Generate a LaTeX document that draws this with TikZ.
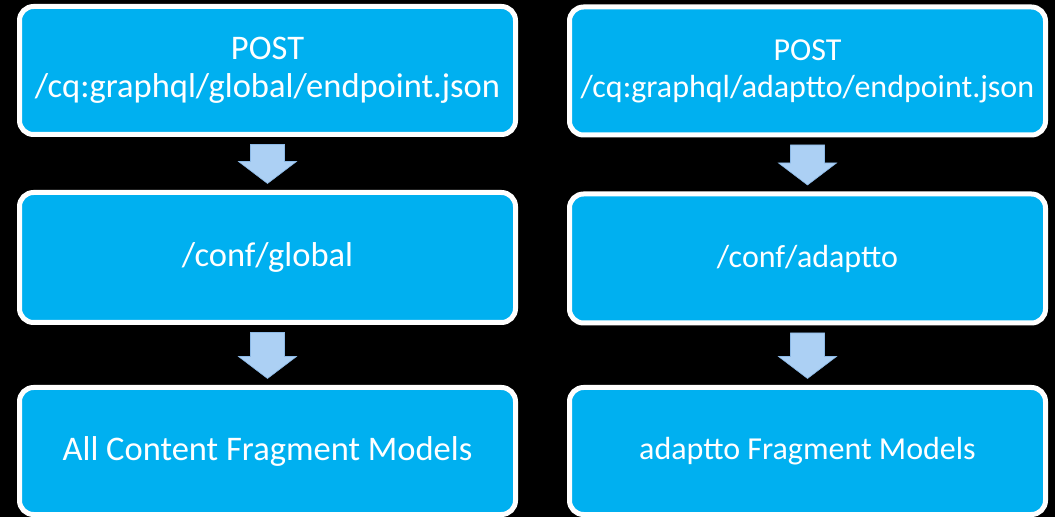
\documentclass[tikz,border=0pt]{standalone}
\usepackage{fontspec}
\setmainfont{Carlito}
\usetikzlibrary{calc}
\definecolor{boxblue}{RGB}{0,176,240}
\definecolor{arrowblue}{RGB}{172,208,244}
\definecolor{arrowedge}{RGB}{140,185,230}
\tikzset{
  flowbox/.style={draw=white, line width=5pt, fill=boxblue, rounded corners=14pt,
    text=white, align=center, inner sep=0pt, font=\fontsize{34.5}{38}\selectfont},
  rightbox/.style={flowbox, font=\fontsize{32}{37}\selectfont},
  arrowfill/.style={fill=arrowblue, draw=arrowedge, line width=0.6pt}
}
\newcommand{\blockarr}[2]{%
  \coordinate (tt) at ($(#1.south)+(0,-7.5)$);
  \coordinate (bb) at ($(#2.north)+(0,6.5)$);
  \filldraw[arrowfill] ($(tt)+(-17,0)$) -- ($(tt)+(17,0)$) -- ($(bb)+(17,22)$) -- ($(bb)+(29,22)$)
    -- (bb) -- ($(bb)+(-29,22)$) -- ($(bb)+(-17,22)$) -- cycle;}
\begin{document}
\begin{tikzpicture}[x=1pt,y=1pt]
\fill[black] (0,0) rectangle (1055,517);
\useasboundingbox (0,0) rectangle (1055,517);
% left column
\node[flowbox, minimum width=496pt, minimum height=128pt] (l1) at (267.5,446.5)
  {POST\\/cq:graphql/global/endpoint.json};
\node[flowbox, minimum width=496pt, minimum height=130pt] (l2) at (267.5,259.5) {/conf/global};
\node[flowbox, minimum width=496pt, minimum height=127pt] (l3) at (267.5,66) {All Content Fragment Models};
% right column
\node[rightbox, minimum width=476pt, minimum height=128pt] (r1) at (807.5,446)
  {POST\\/cq:graphql/adaptto/endpoint.json};
\node[rightbox, minimum width=476pt, minimum height=129pt] (r2) at (807.5,258.5) {/conf/adaptto};
\node[rightbox, minimum width=476pt, minimum height=127pt] (r3) at (807.5,66) {adaptto Fragment Models};
\blockarr{l1}{l2}
\blockarr{l2}{l3}
\blockarr{r1}{r2}
\blockarr{r2}{r3}
\end{tikzpicture}
\end{document}
